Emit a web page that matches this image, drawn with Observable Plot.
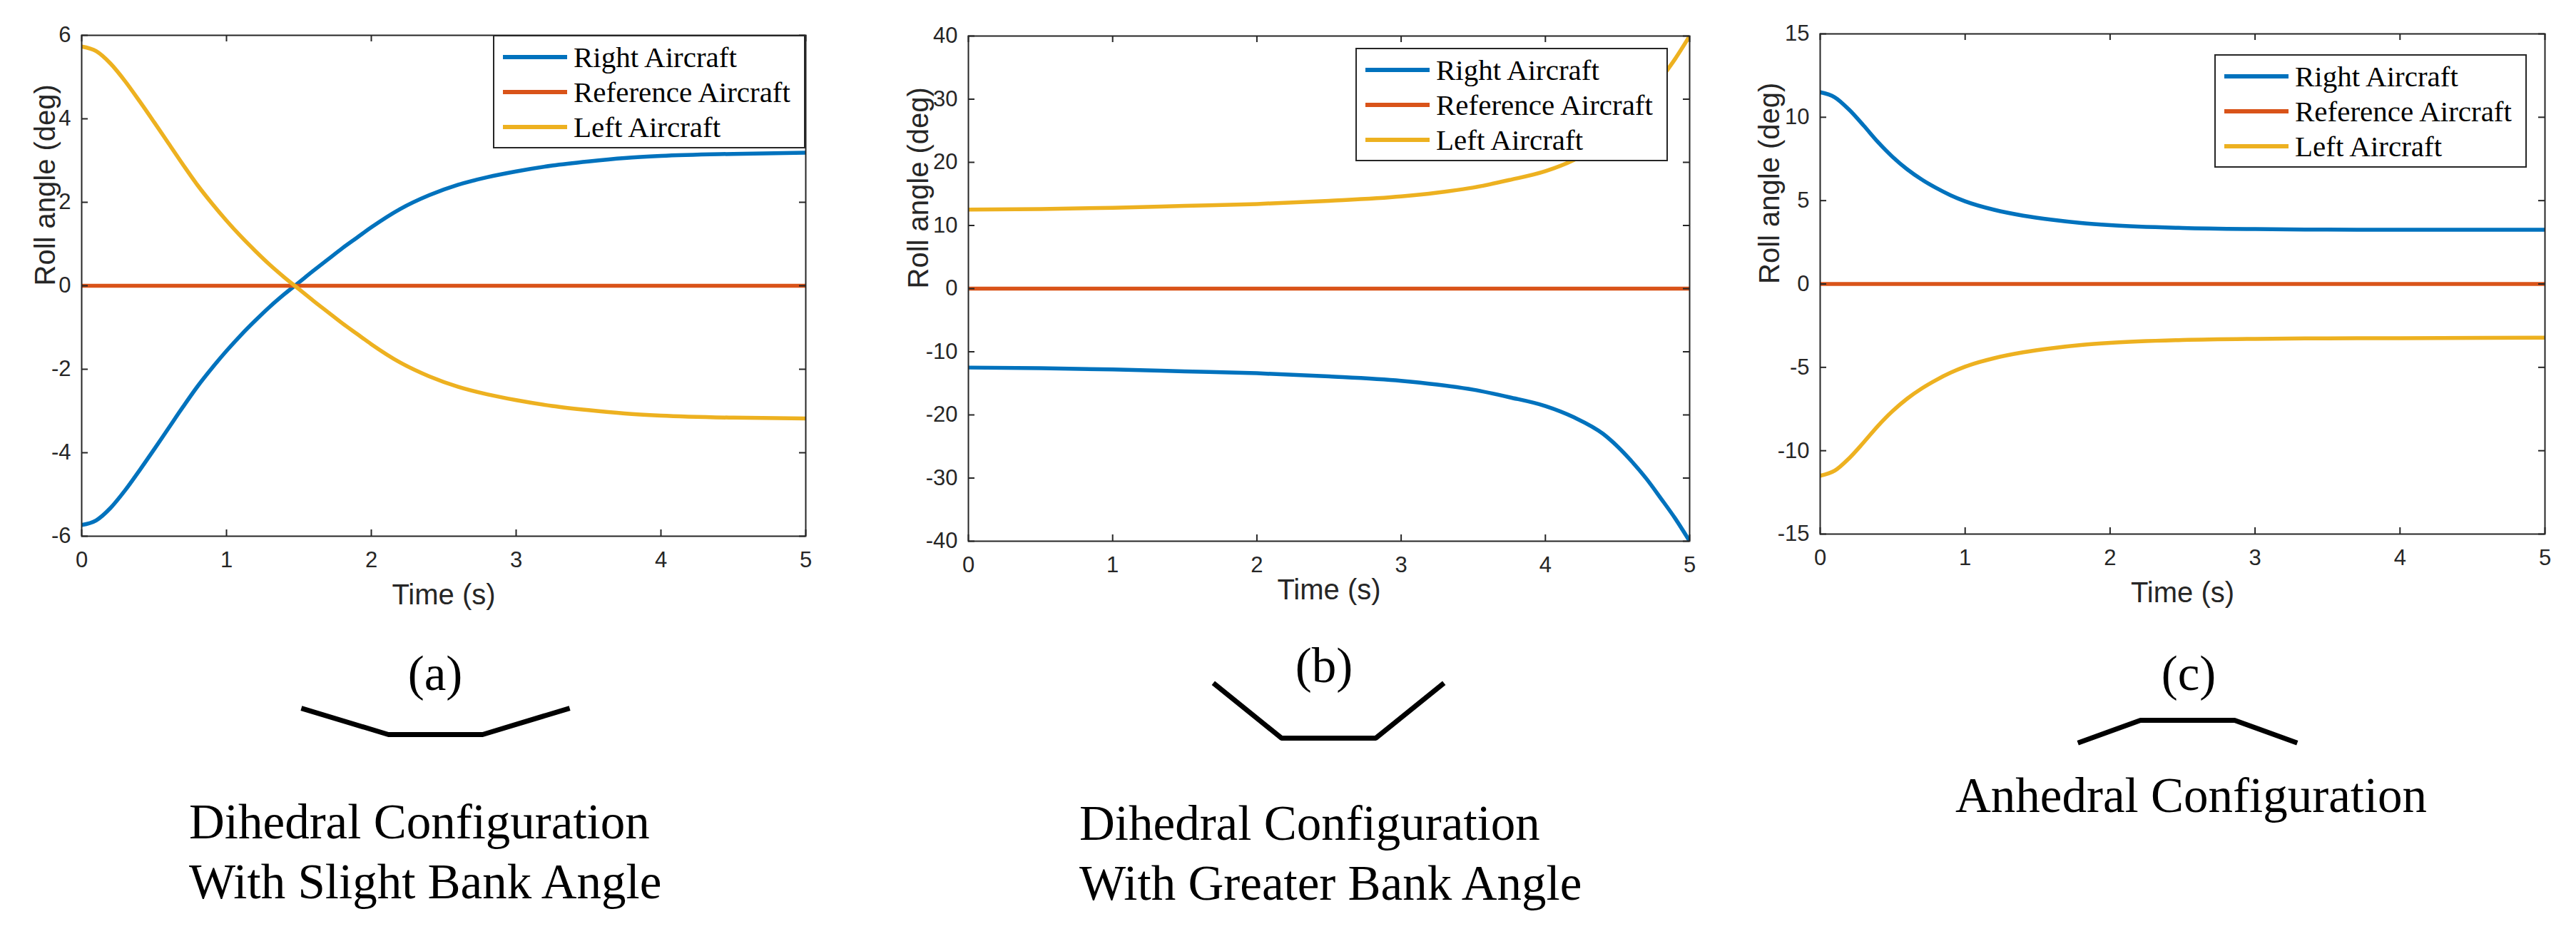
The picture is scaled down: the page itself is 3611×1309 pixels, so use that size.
<!DOCTYPE html>
<html>
<head>
<meta charset="utf-8">
<script src="https://cdn.jsdelivr.net/npm/d3@7"></script>
<script src="https://cdn.jsdelivr.net/npm/@observablehq/plot@0.6"></script>
<style>
  body { margin: 0; background: #fff; }
  #page { position: relative; width: 3611px; height: 1309px; overflow: hidden; background: #fff; }
  .slot { position: absolute; }
  .slot svg { max-width: none !important; }
  .legend { position: absolute; box-sizing: border-box; border: 2px solid #262626; background: #fff; width: 438px; height: 159px; }
  .legend .swatch { position: absolute; left: 12px; width: 90px; height: 6px; }
  .legend .lab { position: absolute; left: 111px; font-family: "Liberation Serif", "Times New Roman", serif; font-size: 41px; line-height: 49px; height: 49px; color: #000; white-space: nowrap; }
  .cap { position: absolute; font-family: "Liberation Serif", "Times New Roman", serif; color: #000; white-space: nowrap; font-size: 69px; line-height: 80px; }
</style>
</head>
<body>
<div id="page"></div>
<script>
// ---------- data ----------
const seriesNames = ["Right Aircraft", "Reference Aircraft", "Left Aircraft"];
const seriesColors = ["#0072BD", "#D95319", "#EDB120"];
const xTicks = [0, 1, 2, 3, 4, 5];

// reference aircraft (constant zero roll)
const refTime = [0, 5];
const refRoll = [0, 0];

// (a) dihedral, slight bank angle
const aTime  = [0, 0.1, 0.2, 0.3, 0.4, 0.5, 0.6, 0.7, 0.8, 0.9, 1.0, 1.1, 1.2, 1.3, 1.4, 1.5, 1.6, 1.7, 1.8, 1.9, 2.0, 2.2, 2.4, 2.6, 2.8, 3.0, 3.25, 3.5, 3.75, 4.0, 4.5, 5.0];
const aRight = [-5.73, -5.62, -5.32, -4.9, -4.42, -3.92, -3.41, -2.9, -2.41, -1.97, -1.56, -1.18, -0.83, -0.5, -0.2, 0.08, 0.36, 0.63, 0.9, 1.15, 1.4, 1.84, 2.17, 2.42, 2.6, 2.74, 2.88, 2.98, 3.06, 3.11, 3.16, 3.19];
const aLeft  = [5.73, 5.62, 5.32, 4.9, 4.42, 3.92, 3.41, 2.9, 2.41, 1.97, 1.56, 1.18, 0.83, 0.5, 0.2, -0.08, -0.36, -0.63, -0.9, -1.15, -1.4, -1.84, -2.17, -2.42, -2.6, -2.74, -2.88, -2.98, -3.06, -3.11, -3.16, -3.18];
const aYTicks = [-6, -4, -2, 0, 2, 4, 6];

// (b) dihedral, greater bank angle
const bTime  = [0, 0.5, 1, 1.5, 2, 2.5, 3, 3.25, 3.5, 3.75, 4, 4.2, 4.4, 4.5, 4.6, 4.7, 4.8, 4.9, 5];
const bRight = [-12.5, -12.6, -12.8, -13.1, -13.4, -13.9, -14.6, -15.2, -16.0, -17.2, -18.6, -20.4, -23.0, -25.0, -27.4, -30.1, -33.2, -36.4, -40];
const bLeft  = [12.5, 12.6, 12.8, 13.1, 13.4, 13.9, 14.6, 15.2, 16.0, 17.2, 18.6, 20.4, 23.0, 25.0, 27.4, 30.1, 33.2, 36.4, 40];
const bYTicks = [-40, -30, -20, -10, 0, 10, 20, 30, 40];

// (c) anhedral
const cTime  = [0, 0.1, 0.2, 0.3, 0.4, 0.5, 0.6, 0.7, 0.8, 0.9, 1.0, 1.2, 1.4, 1.6, 1.8, 2.0, 2.5, 3.0, 3.5, 4.0, 5.0];
const cRight = [11.5, 11.2, 10.45, 9.5, 8.5, 7.62, 6.88, 6.27, 5.76, 5.32, 4.96, 4.45, 4.1, 3.85, 3.66, 3.53, 3.36, 3.29, 3.26, 3.25, 3.25];
const cLeft  = [-11.5, -11.2, -10.45, -9.5, -8.5, -7.62, -6.88, -6.27, -5.76, -5.32, -4.96, -4.45, -4.1, -3.85, -3.66, -3.53, -3.36, -3.29, -3.26, -3.25, -3.22];
const cYTicks = [-15, -10, -5, 0, 5, 10, 15];

// wing cross-section sketches (span position, height), centre panel half-length = 1
const wingAx = [-2.85, -1, 1, 2.85], wingAy = [0.56, 0, 0, 0.56];
const wingBx = [-2.45, -1, 1, 2.45], wingBy = [1.17, 0, 0, 1.17];
const wingCx = [-2.33, -1, 1, 2.33], wingCy = [-0.48, 0, 0, -0.48];

const panelLabels = ["(a)", "(b)", "(c)"];
const captionA = ["Dihedral Configuration", "With Slight Bank Angle"];
const captionB = ["Dihedral Configuration", "With Greater Bank Angle"];
const captionC = ["Anhedral Configuration"];

// ---------- drawing ----------
const AXIS = "#262626";
const page = document.getElementById("page");
const rows = (ts, vs) => ts.map((t, i) => ({t, v: vs[i]}));

function slot(x, y) {
  const d = document.createElement("div");
  d.className = "slot";
  d.style.left = x + "px";
  d.style.top = y + "px";
  page.appendChild(d);
  return d;
}

function drawPanel(p) {
  const innerW = p.W - p.ml - p.mr, innerH = p.H - p.mt - p.mb;
  const tk = {stroke: AXIS, strokeWidth: 2};
  const lineOpt = (c) => ({x: "t", y: "v", stroke: c, strokeWidth: 5.5, curve: "monotone-x", clip: true});
  const chart = Plot.plot({
    width: p.W, height: p.H,
    marginLeft: p.ml, marginRight: p.mr, marginTop: p.mt, marginBottom: p.mb,
    x: {domain: [0, 5]},
    y: {domain: p.yDomain},
    style: {background: "transparent", fontFamily: "'Liberation Sans', Arial, sans-serif", fontSize: "31px", color: AXIS, overflow: "visible"},
    marks: [
      Plot.line(rows(p.time, p.rightV), lineOpt(seriesColors[0])),
      Plot.line(rows(refTime, refRoll), lineOpt(seriesColors[1])),
      Plot.line(rows(p.time, p.leftV), lineOpt(seriesColors[2])),
      Plot.tickX(xTicks, {x: d => d, insetTop: innerH - 9, ...tk}),
      Plot.tickX(xTicks, {x: d => d, insetBottom: innerH - 9, ...tk}),
      Plot.tickY(p.yTicks, {y: d => d, insetRight: innerW - 9, ...tk}),
      Plot.tickY(p.yTicks, {y: d => d, insetLeft: innerW - 9, ...tk}),
      Plot.frame({stroke: AXIS, strokeWidth: 2}),
      Plot.axisX(xTicks, {tickSize: 0, tickPadding: 21, tickFormat: d => String(d), label: null}),
      Plot.axisY(p.yTicks, {tickSize: 0, tickPadding: 15, tickFormat: d => String(d), label: null}),
      Plot.text(["Time (s)"], {text: d => d, frameAnchor: "bottom", dy: p.xlDy, fontSize: 40, lineAnchor: "middle", fill: AXIS}),
      Plot.text(["Roll angle (deg)"], {text: d => d, frameAnchor: "left", rotate: -90, dx: p.ylDx, fontSize: 40, lineAnchor: "middle", fill: AXIS})
    ]
  });
  slot(p.posX, 0).appendChild(chart);

  // legend box inside the axes
  const lg = document.createElement("div");
  lg.className = "legend";
  lg.style.left = p.legLeft + "px";
  lg.style.top = p.legTop + "px";
  seriesNames.forEach((name, i) => {
    const cy = 29 + i * 49;
    const sw = document.createElement("div");
    sw.className = "swatch";
    sw.style.top = (cy - 3) + "px";
    sw.style.background = seriesColors[i];
    lg.appendChild(sw);
    const tx = document.createElement("div");
    tx.className = "lab";
    tx.style.top = (cy - 24.5) + "px";
    tx.textContent = name;
    lg.appendChild(tx);
  });
  page.appendChild(lg);
}

drawPanel({posX: 0, W: 1180, H: 880, ml: 114, mr: 51, mt: 49, mb: 129,
  time: aTime, rightV: aRight, leftV: aLeft, yDomain: [-6, 6], yTicks: aYTicks,
  xlDy: 83, ylDx: -50, legLeft: 691, legTop: 49});
drawPanel({posX: 1200, W: 1200, H: 880, ml: 157, mr: 32, mt: 50, mb: 122,
  time: bTime, rightV: bRight, leftV: bLeft, yDomain: [-40, 40], yTicks: bYTicks,
  xlDy: 69, ylDx: -69, legLeft: 1900, legTop: 67});
drawPanel({posX: 2400, W: 1211, H: 880, ml: 151, mr: 44, mt: 47, mb: 132,
  time: cTime, rightV: cRight, leftV: cLeft, yDomain: [-15, 15], yTicks: cYTicks,
  xlDy: 83, ylDx: -70, legLeft: 3104, legTop: 76});

// wing sketches
function drawWing(xs, ys, cx, cy) {
  const W = 396, H = 198;
  const chart = Plot.plot({
    width: W, height: H, margin: 0,
    x: {domain: [-3, 3], axis: null},
    y: {domain: [-1.5, 1.5], axis: null},
    style: {background: "transparent", overflow: "visible"},
    marks: [
      Plot.line(rows(xs, ys), {x: "t", y: "v", stroke: "#000", strokeWidth: 7, strokeLinejoin: "miter", strokeLinecap: "butt"})
    ]
  });
  slot(cx - W / 2, cy - H / 2).appendChild(chart);
}
drawWing(wingAx, wingAy, 610, 1029);
drawWing(wingBx, wingBy, 1862, 1034);
drawWing(wingCx, wingCy, 3066, 1009);

// captions
function cap(text, x, cy, center) {
  const d = document.createElement("div");
  d.className = "cap";
  d.textContent = text;
  d.style.top = (cy - 40) + "px";
  d.style.left = x + "px";
  if (center) d.style.transform = "translateX(-50%)";
  page.appendChild(d);
}
cap(panelLabels[0], 610, 944, true);
cap(panelLabels[1], 1856, 933, true);
cap(panelLabels[2], 3068, 944, true);
captionA.forEach((t, i) => cap(t, 265, 1152 + i * 84, false));
captionB.forEach((t, i) => cap(t, 1513, 1154 + i * 84, false));
captionC.forEach((t, i) => cap(t, 2741, 1115 + i * 84, false));
</script>
</body>
</html>
